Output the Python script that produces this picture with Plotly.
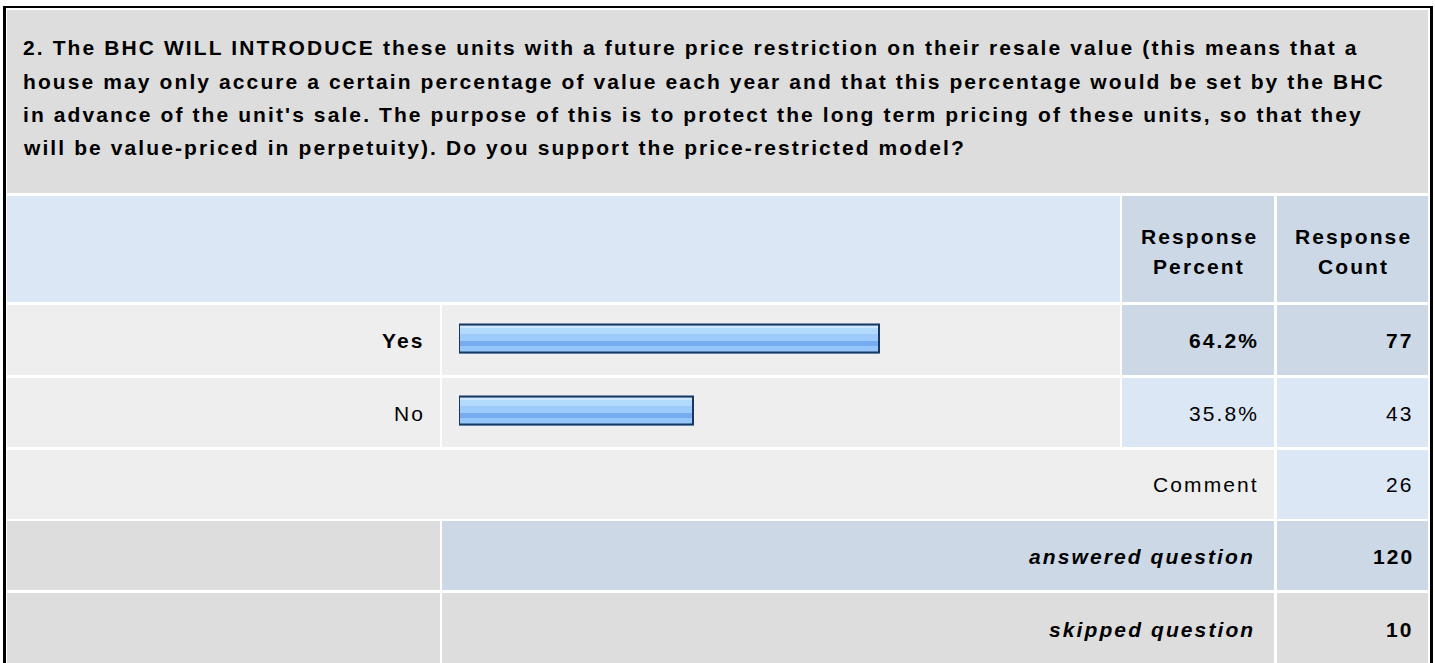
import plotly.graph_objects as go

W, H = 1435, 663

# ---------------- data ----------------
title_lines = [
    "2. The BHC WILL INTRODUCE these units with a future price restriction on their resale value (this means that a",
    "house may only accure a certain percentage of value each year and that this percentage would be set by the BHC",
    "in advance of the unit's sale. The purpose of this is to protect the long term pricing of these units, so that they",
    "will be value-priced in perpetuity). Do you support the price-restricted model?",
]
header_labels = ["Response<br>Percent", "Response<br>Count"]
categories = ["Yes", "No"]
percents = [64.2, 35.8]
counts = [77, 43]
comment_label = "Comment"
comment_count = 26
answered_label = "answered question"
answered_count = 120
skipped_label = "skipped question"
skipped_count = 10

# ---------------- style ----------------
FONT = "Liberation Sans, Arial, sans-serif"
FS = 21
LSV = 2.1
LS = "%.1fpx" % LSV
GREY_D = "#dddddd"
GREY_L = "#eeeeee"
BLUE_L = "#dce7f5"
BLUE_D = "#ccd8e6"


def px(x):
    return x / W


def py(y):
    return 1 - y / H


shapes = []


def rect(x0, y0, x1, y1, color, layer="below"):
    shapes.append(dict(type="rect", xref="paper", yref="paper",
                       x0=px(x0), x1=px(x1), y0=py(y1), y1=py(y0),
                       fillcolor=color, line=dict(width=0), layer=layer))


annotations = []


def text(x, y, s, anchor="right", bold=False, italic=False, size=FS):
    t = s
    if bold:
        t = "<b>" + t + "</b>"
    if italic:
        t = "<i>" + t + "</i>"
    t = '<span style="letter-spacing:%s">%s</span>' % (LS, t)
    if anchor == "right":
        x = x + LSV
    elif anchor == "center":
        x = x + LSV / 2
    annotations.append(dict(xref="paper", yref="paper", x=px(x), y=py(y),
                            text=t, showarrow=False, xanchor=anchor,
                            yanchor="middle", align=anchor,
                            font=dict(family=FONT, size=size, color="#000000"),
                            borderpad=0, borderwidth=0))


# outer frame
rect(3, 6, 1433, 700, "#000000")
rect(6, 8, 1430, 700, "#ffffff")

# title block
rect(7, 10, 1428, 193, GREY_D)
title_y = [48, 81, 114, 147]
for line, yy in zip(title_lines, title_y):
    text(23, yy, line, anchor="left", bold=True)

# header row
rect(7, 196, 1120, 302, BLUE_L)
rect(1122, 196, 1274, 302, BLUE_D)
rect(1277, 196, 1428, 302, BLUE_D)
for lab, cx in zip(header_labels, [1198, 1352.5]):
    parts = lab.split("<br>")
    text(cx, 236, parts[0], anchor="center", bold=True)
    text(cx, 266, parts[1], anchor="center", bold=True)

# answer rows
row_tops = [305, 378]
row_bots = [375, 447]
maxp = max(percents)
for cat, p, c, y0, y1 in zip(categories, percents, counts, row_tops, row_bots):
    top = p == maxp
    cell = BLUE_D if top else BLUE_L
    rect(7, y0, 440, y1, GREY_L)
    rect(442, y0, 1120, y1, GREY_L)
    rect(1122, y0, 1274, y1, cell)
    rect(1277, y0, 1428, y1, cell)
    cy = (y0 + y1) / 2 + 1
    text(423, cy, cat, bold=top)
    text(1257, cy, "%.1f%%" % p, bold=top)
    text(1412, cy, str(c), bold=top)

# comment row
rect(7, 450, 1274, 519, GREY_L)
rect(1277, 450, 1428, 519, BLUE_L)
text(1257, 485, comment_label)
text(1412, 485, str(comment_count))

# answered row
rect(7, 521, 440, 590, GREY_D)
rect(442, 521, 1274, 590, BLUE_D)
rect(1277, 521, 1428, 590, BLUE_D)
text(1253, 556, answered_label, bold=True, italic=True)
text(1412, 556, str(answered_count), bold=True)

# skipped row
rect(7, 593, 440, 700, GREY_D)
rect(442, 593, 1274, 700, GREY_D)
rect(1277, 593, 1428, 700, GREY_D)
text(1253, 629, skipped_label, bold=True, italic=True)
text(1412, 629, str(skipped_count), bold=True)

# ---------------- bars ----------------
UNIT = 72.0  # px per category
BAR_H = 30.0
stripes = [  # (top px within bar, bottom px, color)
    (0, 30, "#a4d0fc"),
    (2, 4, "#cfe7fe"),
    (4, 10, "#b3d9fd"),
    (10, 17, "#9ccbfb"),
    (17, 22, "#77adf0"),
    (22, 28, "#94c6fa"),
]
fig = go.Figure()
for t0, t1, col in stripes:
    fig.add_trace(go.Bar(
        y=categories, x=percents, orientation="h",
        width=(t1 - t0) / UNIT, offset=(t0 - BAR_H / 2) / UNIT,
        marker=dict(color=col, line=dict(width=0)),
        hoverinfo="skip", showlegend=False))
fig.add_trace(go.Bar(
    y=categories, x=percents, orientation="h",
    width=(BAR_H - 2) / UNIT, offset=(1 - BAR_H / 2) / UNIT,
    marker=dict(color="rgba(0,0,0,0)", line=dict(width=2, color="#1b3760")),
    hoverinfo="skip", showlegend=False))

fig.update_layout(
    width=W, height=H, autosize=False,
    margin=dict(l=0, r=0, t=0, b=0, pad=0),
    paper_bgcolor="#ffffff", plot_bgcolor="rgba(0,0,0,0)",
    barmode="overlay", bargap=0,
    shapes=shapes, annotations=annotations,
    xaxis=dict(domain=[px(459), px(1113)], range=[0, 100], visible=False,
               fixedrange=True),
    yaxis=dict(domain=[py(446.5), py(302.5)], type="category",
               categoryorder="array", categoryarray=categories,
               range=[1.5, -0.5], visible=False, fixedrange=True),
)

fig.write_html("out.html", config={"displayModeBar": False},
               post_script="document.body.style.margin='0';")
